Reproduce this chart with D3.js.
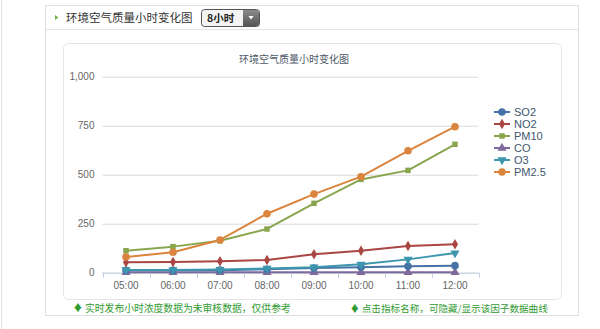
<!DOCTYPE html>
<html>
<head>
<meta charset="utf-8">
<script src="https://cdn.jsdelivr.net/npm/d3@7"></script>
<style>
  html, body { margin: 0; padding: 0; background: #fff; }
  body { width: 600px; height: 329px; overflow: hidden; font-family: "Lucida Grande", "Noto Sans CJK SC", "Liberation Sans", sans-serif; }
</style>
</head>
<body>
<svg id="chart" width="600" height="329"></svg>
<script>
// Hourly readings
const hours = ["05:00", "06:00", "07:00", "08:00", "09:00", "10:00", "11:00", "12:00"];
const seriesNames = ["SO2", "NO2", "PM10", "CO", "O3", "PM2.5"];
const so2 = [12, 12, 13, 18, 24, 28, 33, 36];
const no2 = [53, 55, 58, 65, 94, 112, 136, 145];
const pm10 = [112, 133, 163, 223, 354, 476, 522, 655];
const co = [2, 2, 2, 2, 2, 2, 2, 2];
const o3 = [14, 14, 16, 22, 28, 43, 68, 100];
const pm25 = [80, 104, 167, 301, 401, 490, 622, 745];
const yTicks = [0, 250, 500, 750, 1000];
const colors = ["#4572A7", "#AA4643", "#89A54E", "#80699B", "#3D96AE", "#DB843D"];
const symbols = [d3.symbolCircle, d3.symbolDiamond, d3.symbolSquare, d3.symbolTriangle, "triangleDown", d3.symbolCircle];

const seriesValues = [so2, no2, pm10, co, o3, pm25];
const svg = d3.select("#chart");
const cjk = "'Noto Sans CJK SC', sans-serif";
const latin = "'Liberation Sans', Arial, sans-serif";

// Page frame
svg.append("line").attr("x1", 1.5).attr("x2", 1.5).attr("y1", 0).attr("y2", 329).attr("stroke", "#e2e2e2");
svg.append("rect").attr("x", 45.5).attr("y", 5.5).attr("width", 533).attr("height", 310)
  .attr("fill", "#fff").attr("stroke", "#e0e0e0");
svg.append("line").attr("x1", 46).attr("x2", 578).attr("y1", 29.5).attr("y2", 29.5).attr("stroke", "#e4e4e4");

// Panel header
svg.append("path").attr("d", "M55,15 L58.5,17.5 L55,20 Z").attr("fill", "#7cb342");
svg.append("text").attr("x", 66).attr("y", 21.5).attr("font-family", cjk).attr("font-size", 11.5)
  .attr("fill", "#333").text("环境空气质量小时变化图");

// Period selector
const sel = svg.append("g").attr("transform", "translate(201,9)");
const grad = svg.append("defs").append("linearGradient").attr("id", "btn").attr("x1", 0).attr("x2", 0).attr("y1", 0).attr("y2", 1);
grad.append("stop").attr("offset", "0%").attr("stop-color", "#8a8a8a");
grad.append("stop").attr("offset", "100%").attr("stop-color", "#555");
sel.append("rect").attr("x", 0.5).attr("y", 0.5).attr("width", 58).attr("height", 17).attr("rx", 3)
  .attr("fill", "#f4f4f4").attr("stroke", "#555");
sel.append("path").attr("d", "M42,1 H55.5 Q58,1 58,3.5 V14.5 Q58,17 55.5,17 H42 Z").attr("fill", "url(#btn)");
sel.append("path").attr("d", "M47.5,7 L52.5,7 L50,10.5 Z").attr("fill", "#fff");
sel.append("text").attr("x", 6).attr("y", 13).attr("font-family", cjk).attr("font-size", 10.5)
  .attr("font-weight", "bold").attr("fill", "#222").text("8小时");

// Chart container
svg.append("rect").attr("x", 63.5).attr("y", 43.5).attr("width", 498).attr("height", 256).attr("rx", 5)
  .attr("fill", "#fff").attr("stroke", "#e6e6e6");

// Scales
const x = d3.scaleBand().domain(hours).range([102.5, 478.5]);
const y = d3.scaleLinear().domain([0, 1000]).range([272.7, 76.7]);

// Title
svg.append("text").attr("x", 294).attr("y", 63).attr("text-anchor", "middle").attr("font-family", cjk)
  .attr("font-size", 10).attr("fill", "#4d5968").text("环境空气质量小时变化图");

// Gridlines and y labels
const yAxis = svg.append("g").attr("transform", "translate(102.5,0)")
  .call(d3.axisLeft(y).tickValues(yTicks).tickSize(-376).tickFormat(d3.format(",")));
yAxis.select(".domain").remove();
yAxis.selectAll(".tick line").attr("stroke", "#d8d8d8").attr("stroke-width", 1);
yAxis.selectAll(".tick text").attr("x", -8).attr("fill", "#666").attr("font-family", latin).attr("font-size", 10);

// Category axis
const xAxis = svg.append("g").attr("transform", `translate(0,${y(0)})`)
  .call(d3.axisBottom(x).tickSize(0));
xAxis.select(".domain").attr("stroke", "#c0d0e0").attr("d", "M102.5,0.5H478.5");
xAxis.selectAll(".tick text").attr("y", 9).attr("fill", "#666").attr("font-family", latin).attr("font-size", 10);
const bounds = hours.map(h => x(h)).concat([x(hours[hours.length - 1]) + x.bandwidth()]);
xAxis.selectAll(".bound").data(bounds).join("line").attr("class", "bound")
  .attr("x1", d => Math.round(d) + 0.5).attr("x2", d => Math.round(d) + 0.5)
  .attr("y1", 0).attr("y2", 5).attr("stroke", "#c0d0e0");

// Marker shapes
function markerPath(sym, size) {
  if (sym === "triangleDown") {
    return d3.symbol(d3.symbolTriangle, size)();
  }
  return d3.symbol(sym, size)();
}
function markerTransform(sym, px, py) {
  return sym === "triangleDown" ? `translate(${px},${py}) rotate(180)` : `translate(${px},${py})`;
}
const markerSize = [45, 32, 30, 36, 36, 45];

// Series lines and markers
const line = d3.line().x((d, i) => x(hours[i]) + x.bandwidth() / 2).y(d => y(d));
const drawOrder = [3, 0, 4, 1, 2, 5];
drawOrder.forEach(k => {
  const g = svg.append("g");
  g.append("path").datum(seriesValues[k]).attr("d", line).attr("fill", "none")
    .attr("stroke", colors[k]).attr("stroke-width", 2).attr("stroke-linejoin", "round");
  g.selectAll("path.m").data(seriesValues[k]).join("path").attr("class", "m")
    .attr("d", markerPath(symbols[k], markerSize[k]))
    .attr("transform", (d, i) => markerTransform(symbols[k], x(hours[i]) + x.bandwidth() / 2, y(d)))
    .attr("fill", colors[k]);
});

// Legend
const legend = svg.append("g").attr("transform", "translate(494,112)");
seriesNames.forEach((name, k) => {
  const item = legend.append("g").attr("transform", `translate(0,${k * 12})`);
  item.append("line").attr("x1", 0).attr("x2", 16).attr("y1", 0).attr("y2", 0)
    .attr("stroke", colors[k]).attr("stroke-width", 2);
  item.append("path").attr("d", markerPath(symbols[k], markerSize[k]))
    .attr("transform", markerTransform(symbols[k], 8, 0)).attr("fill", colors[k]);
  item.append("text").attr("x", 20).attr("y", 4).attr("font-family", latin).attr("font-size", 11)
    .attr("fill", "#3e576f").text(name);
});

// Footnotes
svg.append("text").attr("x", 73).attr("y", 312).attr("font-family", cjk).attr("font-size", 9.8)
  .attr("fill", "#2f9a2f").text("♦ 实时发布小时浓度数据为未审核数据，仅供参考");
svg.append("text").attr("x", 350).attr("y", 312).attr("font-family", cjk).attr("font-size", 9.6)
  .attr("fill", "#2f9a2f").text("♦ 点击指标名称，可隐藏/显示该因子数据曲线");
</script>
</body>
</html>
